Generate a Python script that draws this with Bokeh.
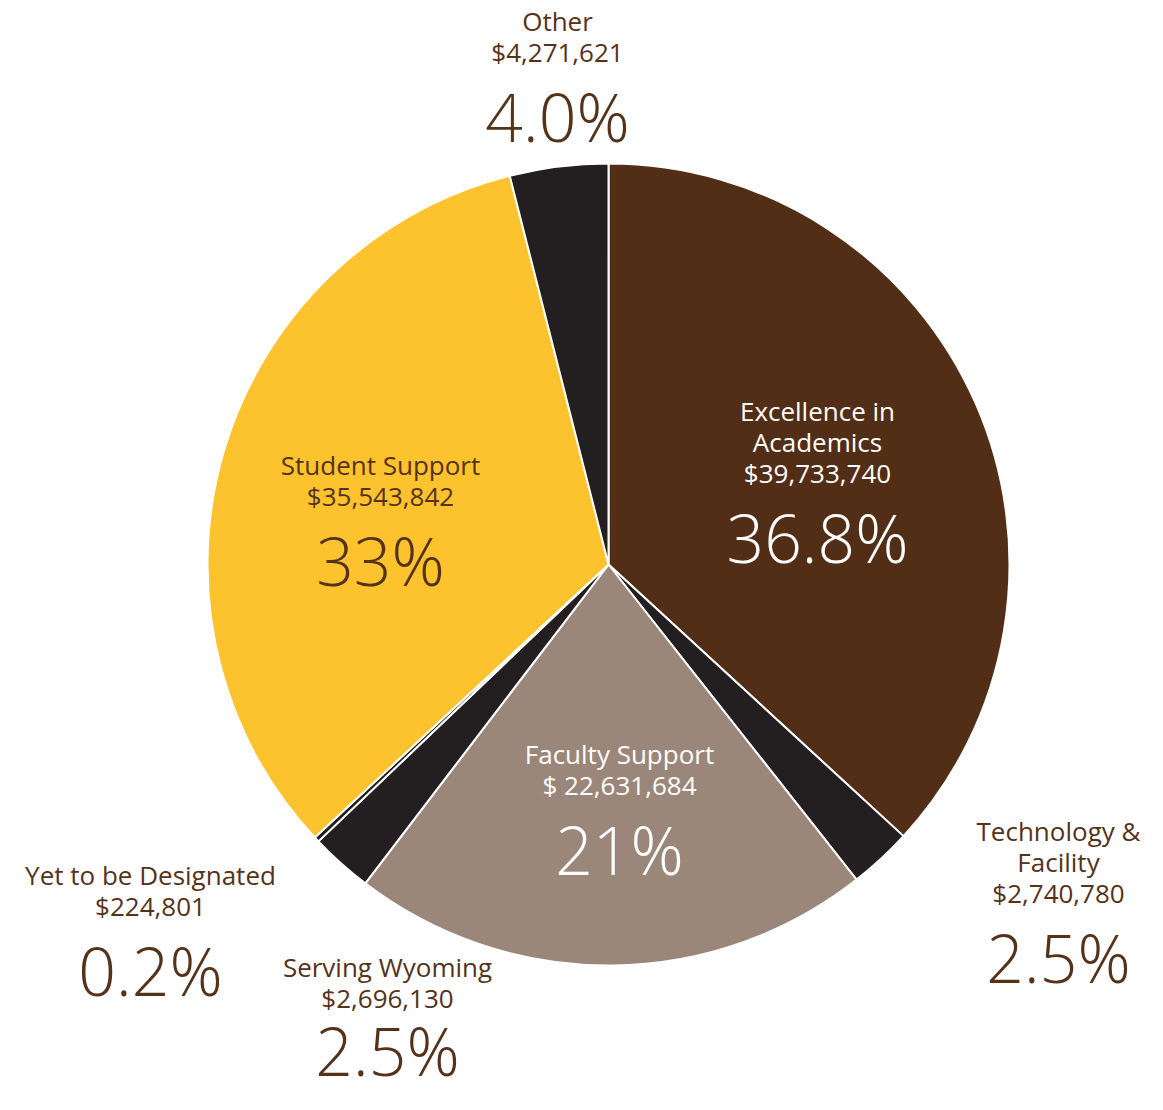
import numpy as np
from bokeh.plotting import figure
from bokeh.models import Range1d, ColumnDataSource
from bokeh.core.properties import value
from bokeh.embed import file_html
from bokeh.resources import INLINE

# ---- data ----
categories = ["Excellence in Academics", "Technology & Facility", "Faculty Support",
              "Serving Wyoming", "Yet to be Designated", "Student Support", "Other"]
amounts = [39733740, 2740780, 22631684, 2696130, 224801, 35543842, 4271621]
name_lines = [["Excellence in", "Academics"], ["Technology &", "Facility"], ["Faculty Support"],
              ["Serving Wyoming"], ["Yet to be Designated"], ["Student Support"], ["Other"]]
amount_labels = ["$39,733,740", "$2,740,780", "$ 22,631,684", "$2,696,130", "$224,801",
                 "$35,543,842", "$4,271,621"]
pct_labels = ["36.8%", "2.5%", "21%", "2.5%", "0.2%", "33%", "4.0%"]

# ---- styles / layout ----
colors = ["#522E17", "#231F20", "#9B877A", "#231F20", "#231F20", "#FDC32E", "#231F20"]
text_colors = ["#FFFFFF", "#55321A", "#FFFFFF", "#55321A", "#55321A", "#55321A", "#55321A"]
# label anchor (x, y of first text line in picture pixels) and gap to the percentage
label_pos = [(817, 410), (1058, 830), (619, 753), (387, 966), (150, 874), (380, 464), (557, 20)]
pct_gap = [64, 64, 64, 52, 64, 64, 64]
LINE = 31.2
FONT = "Open Sans"
PCT_FONT = "'Open Sans Light', 'Lato Light', 'Open Sans'"

W, H = 1147, 1094
TOP = 1110  # data y of picture row 0
cx, cy, R = 608, TOP - 564, 401

p = figure(width=W, height=H, output_backend="svg", toolbar_location=None,
           x_range=Range1d(0, W), y_range=Range1d(TOP - H, TOP),
           min_border=0, outline_line_color=None)
p.axis.visible = False
p.grid.visible = False
p.background_fill_color = "white"
p.border_fill_color = "white"

vals = np.array(amounts, dtype=float)
frac = vals / vals.sum()
cum = np.concatenate([[0], np.cumsum(frac)])
start = np.pi / 2 - 2 * np.pi * cum[:-1]
end = np.pi / 2 - 2 * np.pi * cum[1:]

src = ColumnDataSource(dict(x=[cx] * len(vals), y=[cy] * len(vals), start=start, end=end,
                            color=colors, cat=categories))
p.wedge(x="x", y="y", radius=R, start_angle="start", end_angle="end", direction="clock",
        fill_color="color", line_color="white", line_width=2, source=src)

tx, ty, tt, tc = [], [], [], []
px, py, pt, pc = [], [], [], []
for i in range(len(categories)):
    x0, y0 = label_pos[i]
    lines = name_lines[i] + [amount_labels[i]]
    for k, s in enumerate(lines):
        tx.append(x0)
        ty.append(TOP - (y0 + k * LINE))
        tt.append(s)
        tc.append(text_colors[i])
    last = y0 + (len(lines) - 1) * LINE
    px.append(x0)
    py.append(TOP - (last + pct_gap[i]))
    pt.append(pct_labels[i])
    pc.append(text_colors[i])

p.text(x=tx, y=ty, text=tt, text_color=tc, text_font=value(FONT), text_font_size="26px",
       text_align="center", text_baseline="middle")
p.text(x=px, y=py, text=pt, text_color=pc, text_font=value(PCT_FONT), text_font_size="66px",
       text_align="center", text_baseline="middle")

open("out.html", "w").write(file_html(p, INLINE))
